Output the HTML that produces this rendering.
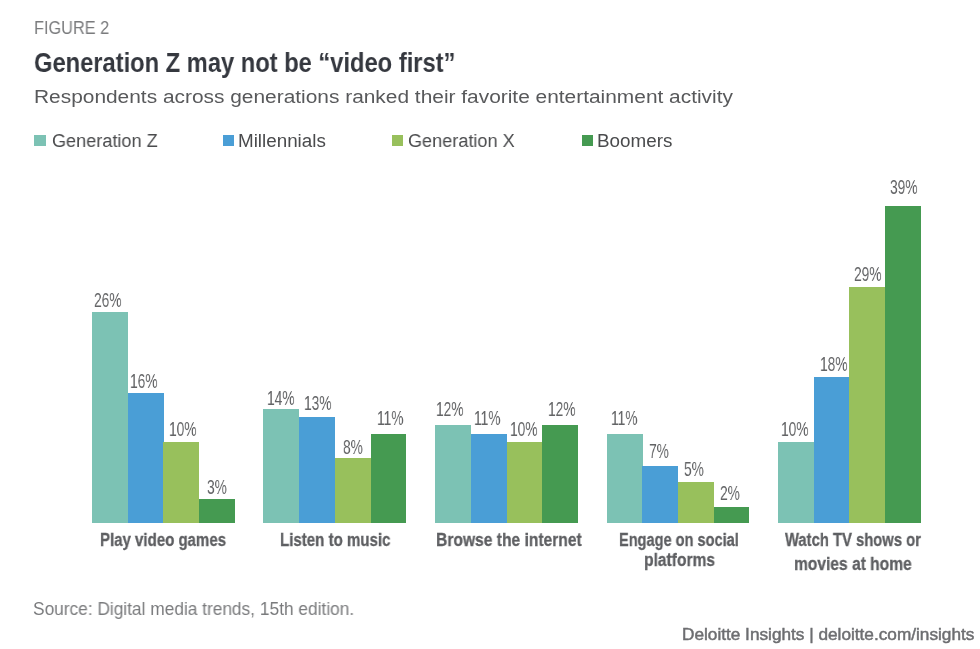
<!DOCTYPE html>
<html><head><meta charset="utf-8">
<style>
html,body{margin:0;padding:0;background:#fff;}
body{width:980px;height:649px;position:relative;overflow:hidden;font-family:"Liberation Sans",sans-serif;}
.t{position:absolute;white-space:nowrap;line-height:1;transform-origin:0 0;will-change:transform;}
.b{position:absolute;}
</style></head><body>
<div class="t" id="fig" style="left:33.90px;top:19.72px;font-size:17.44px;color:#7a7b7d;font-weight:400;transform:scaleX(0.9345);">FIGURE 2</div>
<div class="t" id="title" style="left:34.20px;top:48.31px;font-size:28.49px;color:#35383f;font-weight:700;transform:scaleX(0.8320);">Generation Z may not be “video first”</div>
<div class="t" id="sub" style="left:33.90px;top:87.50px;font-size:18.90px;color:#58595b;font-weight:400;transform:scaleX(1.1057);">Respondents across generations ranked their favorite entertainment activity</div>
<div class="t" id="leg1" style="left:51.60px;top:131.60px;font-size:18.80px;color:#4a4b4d;font-weight:400;transform:scaleX(0.9636);">Generation Z</div>
<div class="t" id="leg2" style="left:238.00px;top:131.60px;font-size:18.80px;color:#4a4b4d;font-weight:400;transform:scaleX(1.0017);">Millennials</div>
<div class="t" id="leg3" style="left:408.40px;top:131.60px;font-size:18.80px;color:#4a4b4d;font-weight:400;transform:scaleX(0.9634);">Generation X</div>
<div class="t" id="leg4" style="left:597.40px;top:131.60px;font-size:18.80px;color:#4a4b4d;font-weight:400;transform:scaleX(1.0021);">Boomers</div>
<div class="t" id="cat1" style="left:99.70px;top:531.81px;font-size:17.50px;color:#5e5f62;font-weight:700;transform:scaleX(0.8579);-webkit-text-stroke:0.3px #5e5f62;">Play video games</div>
<div class="t" id="cat2" style="left:279.90px;top:531.91px;font-size:17.50px;color:#5e5f62;font-weight:700;transform:scaleX(0.8612);-webkit-text-stroke:0.3px #5e5f62;">Listen to music</div>
<div class="t" id="cat3" style="left:435.70px;top:532.00px;font-size:17.50px;color:#5e5f62;font-weight:700;transform:scaleX(0.8923);-webkit-text-stroke:0.3px #5e5f62;">Browse the internet</div>
<div class="t" id="cat4a" style="left:619.30px;top:532.11px;font-size:17.50px;color:#5e5f62;font-weight:700;transform:scaleX(0.8325);-webkit-text-stroke:0.3px #5e5f62;">Engage on social</div>
<div class="t" id="cat4b" style="left:644.00px;top:551.90px;font-size:17.50px;color:#5e5f62;font-weight:700;transform:scaleX(0.8909);-webkit-text-stroke:0.3px #5e5f62;">platforms</div>
<div class="t" id="cat5a" style="left:785.40px;top:532.11px;font-size:17.50px;color:#5e5f62;font-weight:700;transform:scaleX(0.8455);-webkit-text-stroke:0.3px #5e5f62;">Watch TV shows or</div>
<div class="t" id="cat5b" style="left:794.30px;top:555.60px;font-size:17.50px;color:#5e5f62;font-weight:700;transform:scaleX(0.8899);-webkit-text-stroke:0.3px #5e5f62;">movies at home</div>
<div class="t" id="src" style="left:32.80px;top:600.60px;font-size:17.44px;color:#7a7b7d;font-weight:400;transform:scaleX(0.9918);">Source: Digital media trends, 15th edition.</div>
<div class="t" id="foot" style="left:682.00px;top:627.41px;font-size:15.70px;color:#6d6e71;font-weight:400;transform:scaleX(1.0968);-webkit-text-stroke:0.45px #6d6e71;">Deloitte Insights | deloitte.com/insights</div>
<div class="t" id="v0" style="left:94.30px;top:290.25px;font-size:20.20px;color:#636466;font-weight:400;transform:scaleX(0.6800);">26%</div>
<div class="t" id="v1" style="left:130.40px;top:371.34px;font-size:20.20px;color:#636466;font-weight:400;transform:scaleX(0.6800);">16%</div>
<div class="t" id="v2" style="left:169.00px;top:419.46px;font-size:20.20px;color:#636466;font-weight:400;transform:scaleX(0.6800);">10%</div>
<div class="t" id="v3" style="left:207.00px;top:476.60px;font-size:20.20px;color:#636466;font-weight:400;transform:scaleX(0.6800);">3%</div>
<div class="t" id="v4" style="left:267.00px;top:388.15px;font-size:20.20px;color:#636466;font-weight:400;transform:scaleX(0.6800);">14%</div>
<div class="t" id="v5" style="left:303.80px;top:392.55px;font-size:20.20px;color:#636466;font-weight:400;transform:scaleX(0.6800);">13%</div>
<div class="t" id="v6" style="left:343.00px;top:437.06px;font-size:20.20px;color:#636466;font-weight:400;transform:scaleX(0.6800);">8%</div>
<div class="t" id="v7" style="left:376.90px;top:408.30px;font-size:20.20px;color:#636466;font-weight:400;transform:scaleX(0.6800);">11%</div>
<div class="t" id="v8" style="left:436.20px;top:399.25px;font-size:20.20px;color:#636466;font-weight:400;transform:scaleX(0.6800);">12%</div>
<div class="t" id="v9" style="left:474.30px;top:407.56px;font-size:20.20px;color:#636466;font-weight:400;transform:scaleX(0.6800);">11%</div>
<div class="t" id="v10" style="left:510.20px;top:418.71px;font-size:20.20px;color:#636466;font-weight:400;transform:scaleX(0.6800);">10%</div>
<div class="t" id="v11" style="left:547.50px;top:399.25px;font-size:20.20px;color:#636466;font-weight:400;transform:scaleX(0.6800);">12%</div>
<div class="t" id="v12" style="left:610.50px;top:408.21px;font-size:20.20px;color:#636466;font-weight:400;transform:scaleX(0.6800);">11%</div>
<div class="t" id="v13" style="left:648.60px;top:440.57px;font-size:20.20px;color:#636466;font-weight:400;transform:scaleX(0.6800);">7%</div>
<div class="t" id="v14" style="left:683.70px;top:458.71px;font-size:20.20px;color:#636466;font-weight:400;transform:scaleX(0.6800);">5%</div>
<div class="t" id="v15" style="left:719.60px;top:482.71px;font-size:20.20px;color:#636466;font-weight:400;transform:scaleX(0.6800);">2%</div>
<div class="t" id="v16" style="left:781.20px;top:419.20px;font-size:20.20px;color:#636466;font-weight:400;transform:scaleX(0.6800);">10%</div>
<div class="t" id="v17" style="left:819.50px;top:353.81px;font-size:20.20px;color:#636466;font-weight:400;transform:scaleX(0.6800);">18%</div>
<div class="t" id="v18" style="left:854.10px;top:264.25px;font-size:20.20px;color:#636466;font-weight:400;transform:scaleX(0.6800);">29%</div>
<div class="t" id="v19" style="left:890.00px;top:177.31px;font-size:20.20px;color:#636466;font-weight:400;transform:scaleX(0.6800);">39%</div>
<div class="b" style="left:91.80px;top:311.62px;width:36.00px;height:211.38px;background:#7cc2b4;"></div>
<div class="b" style="left:127.50px;top:392.92px;width:36.00px;height:130.08px;background:#4a9ed6;"></div>
<div class="b" style="left:163.20px;top:441.70px;width:36.00px;height:81.30px;background:#98c05c;"></div>
<div class="b" style="left:198.90px;top:498.61px;width:35.70px;height:24.39px;background:#459a51;"></div>
<div class="b" style="left:263.40px;top:409.18px;width:36.00px;height:113.82px;background:#7cc2b4;"></div>
<div class="b" style="left:299.10px;top:417.31px;width:36.00px;height:105.69px;background:#4a9ed6;"></div>
<div class="b" style="left:334.80px;top:457.96px;width:36.00px;height:65.04px;background:#98c05c;"></div>
<div class="b" style="left:370.50px;top:433.57px;width:35.70px;height:89.43px;background:#459a51;"></div>
<div class="b" style="left:435.10px;top:425.44px;width:36.00px;height:97.56px;background:#7cc2b4;"></div>
<div class="b" style="left:470.80px;top:433.57px;width:36.00px;height:89.43px;background:#4a9ed6;"></div>
<div class="b" style="left:506.50px;top:441.70px;width:36.00px;height:81.30px;background:#98c05c;"></div>
<div class="b" style="left:542.20px;top:425.44px;width:35.70px;height:97.56px;background:#459a51;"></div>
<div class="b" style="left:606.50px;top:433.57px;width:36.00px;height:89.43px;background:#7cc2b4;"></div>
<div class="b" style="left:642.20px;top:466.09px;width:36.00px;height:56.91px;background:#4a9ed6;"></div>
<div class="b" style="left:677.90px;top:482.35px;width:36.00px;height:40.65px;background:#98c05c;"></div>
<div class="b" style="left:713.60px;top:506.74px;width:35.70px;height:16.26px;background:#459a51;"></div>
<div class="b" style="left:777.90px;top:441.70px;width:36.00px;height:81.30px;background:#7cc2b4;"></div>
<div class="b" style="left:813.60px;top:376.66px;width:36.00px;height:146.34px;background:#4a9ed6;"></div>
<div class="b" style="left:849.30px;top:287.23px;width:36.00px;height:235.77px;background:#98c05c;"></div>
<div class="b" style="left:885.00px;top:205.93px;width:35.70px;height:317.07px;background:#459a51;"></div>
<div class="b" style="left:34.20px;top:135.00px;width:11.60px;height:11.40px;background:#7cc2b4;"></div>
<div class="b" style="left:223.20px;top:135.00px;width:11.30px;height:11.40px;background:#4a9ed6;"></div>
<div class="b" style="left:392.10px;top:135.00px;width:11.30px;height:11.40px;background:#98c05c;"></div>
<div class="b" style="left:581.70px;top:135.00px;width:11.30px;height:11.40px;background:#459a51;"></div>
</body></html>
